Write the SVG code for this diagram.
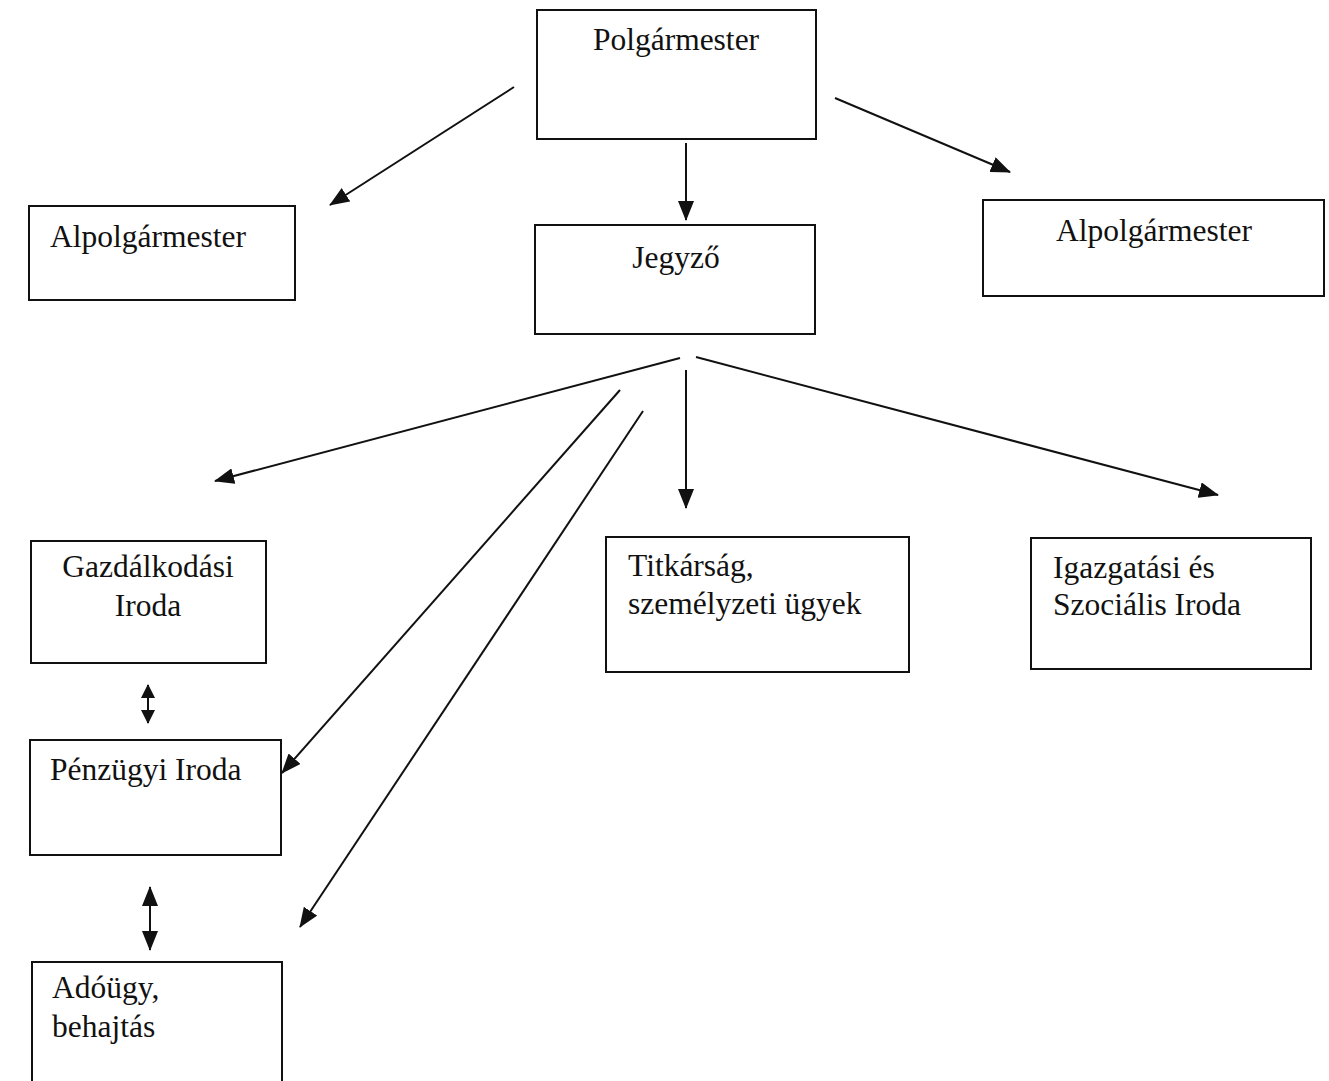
<svg xmlns="http://www.w3.org/2000/svg" width="1329" height="1081" viewBox="0 0 1329 1081">
<style>
.box{fill:#fff;stroke:#111;stroke-width:2}
.t{font-family:'Liberation Serif','Times New Roman',serif;font-size:31.5px;fill:#111}
.c{fill:none;stroke:#111;stroke-width:2}
</style>
<defs>
<marker id="ah" markerWidth="20" markerHeight="16" refX="19" refY="8" orient="auto" markerUnits="userSpaceOnUse">
<path d="M0,0 L20,8 L0,16 Z" fill="#111"/>
</marker>
<marker id="as" markerWidth="20" markerHeight="16" refX="1" refY="8" orient="auto" markerUnits="userSpaceOnUse">
<path d="M20,0 L0,8 L20,16 Z" fill="#111"/>
</marker>
<marker id="sh" markerWidth="14" markerHeight="14" refX="13" refY="7" orient="auto" markerUnits="userSpaceOnUse">
<path d="M0,0 L14,7 L0,14 Z" fill="#111"/>
</marker>
<marker id="ss" markerWidth="14" markerHeight="14" refX="1" refY="7" orient="auto" markerUnits="userSpaceOnUse">
<path d="M14,0 L0,7 L14,14 Z" fill="#111"/>
</marker>
</defs>
<rect width="1329" height="1081" fill="#fff"/>
<g id="polgarmester"><rect class="box" x="537" y="10" width="279" height="129"/><text class="t" x="676" y="50" text-anchor="middle">Polgármester</text></g>
<g id="alpolgarmester-bal"><rect class="box" x="29" y="206" width="266" height="94"/><text class="t" x="50" y="247">Alpolgármester</text></g>
<g id="jegyzo"><rect class="box" x="535" y="225" width="280" height="109"/><text class="t" x="676" y="268" text-anchor="middle">Jegyző</text></g>
<g id="alpolgarmester-jobb"><rect class="box" x="983" y="200" width="341" height="96"/><text class="t" x="1154" y="241" text-anchor="middle">Alpolgármester</text></g>
<g id="gazdalkodasi"><rect class="box" x="31" y="541" width="235" height="122"/><text class="t" x="148" y="577" text-anchor="middle">Gazdálkodási</text><text class="t" x="148" y="616" text-anchor="middle">Iroda</text></g>
<g id="titkarsag"><rect class="box" x="606" y="537" width="303" height="135"/><text class="t" x="628" y="576">Titkárság,</text><text class="t" x="628" y="614">személyzeti ügyek</text></g>
<g id="igazgatasi"><rect class="box" x="1031" y="538" width="280" height="131"/><text class="t" x="1053" y="578">Igazgatási és</text><text class="t" x="1053" y="615">Szociális Iroda</text></g>
<g id="penzugyi"><rect class="box" x="30" y="740" width="251" height="115"/><text class="t" x="50" y="780">Pénzügyi Iroda</text></g>
<g id="adougy"><rect class="box" x="32" y="962" width="250" height="130"/><text class="t" x="52" y="998">Adóügy,</text><text class="t" x="52" y="1037">behajtás</text></g>
<g id="connectors">
<line class="c" x1="514" y1="87" x2="330" y2="205" marker-end="url(#ah)"/>
<line class="c" x1="686" y1="143" x2="686" y2="220" marker-end="url(#ah)"/>
<line class="c" x1="835" y1="98" x2="1010" y2="172" marker-end="url(#ah)"/>
<line class="c" x1="680" y1="358" x2="215" y2="481" marker-end="url(#ah)"/>
<line class="c" x1="696" y1="357" x2="1218" y2="495" marker-end="url(#ah)"/>
<line class="c" x1="686" y1="370" x2="686" y2="508" marker-end="url(#ah)"/>
<line class="c" x1="620" y1="390" x2="282" y2="773" marker-end="url(#ah)"/>
<line class="c" x1="643" y1="411" x2="300" y2="927" marker-end="url(#ah)"/>
<line class="c" x1="148" y1="685" x2="148" y2="723" marker-start="url(#ss)" marker-end="url(#sh)"/>
<line class="c" x1="150" y1="887" x2="150" y2="950" marker-start="url(#as)" marker-end="url(#ah)"/>
</g>
</svg>
